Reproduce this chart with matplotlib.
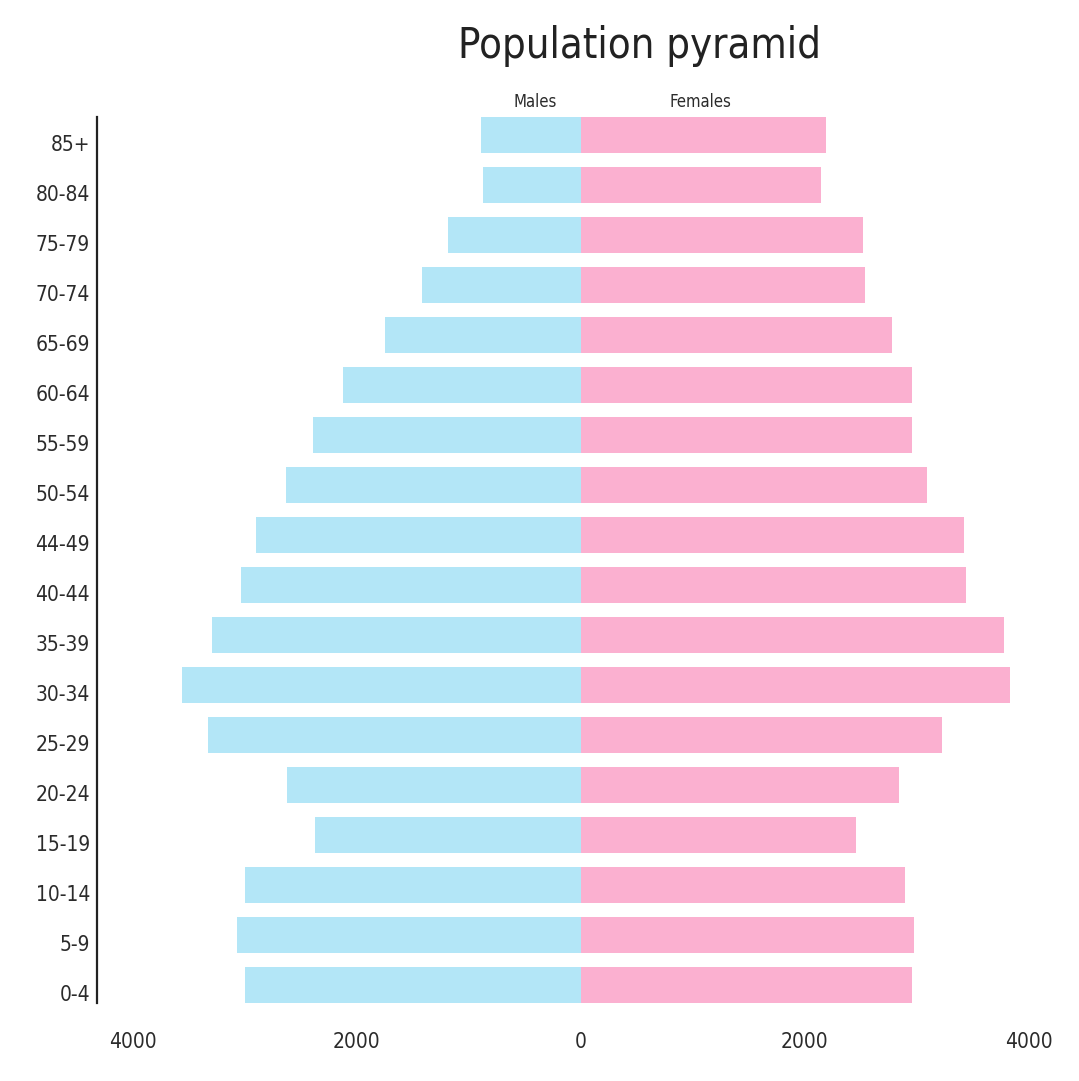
import matplotlib.pyplot as plt
import matplotlib.transforms as mtransforms
import numpy as np

plt.rcParams["font.family"] = ["DejaVu Sans"]
plt.rcParams["font.stretch"] = "condensed"

AGE_GROUPS = ["0-4", "5-9", "10-14", "15-19", "20-24", "25-29", "30-34", "35-39",
              "40-44", "44-49", "50-54", "55-59", "60-64", "65-69", "70-74", "75-79",
              "80-84", "85+"]
MALES = [3000, 3070, 3000, 2370, 2620, 3330, 3560, 3290, 3030, 2900, 2630, 2390,
         2120, 1750, 1420, 1190, 870, 890]
FEMALES = [2960, 2970, 2890, 2460, 2840, 3220, 3830, 3780, 3440, 3420, 3090, 2960,
           2960, 2780, 2540, 2520, 2140, 2190]
XTICKS = [-4000, -2000, 0, 2000, 4000]

MALE_COLOR = "#b3e6f7"
FEMALE_COLOR = "#fbb0d0"
TEXT_COLOR = "#2b2b2b"
BAR_H = 0.72

fig = plt.figure(figsize=(10.79, 10.81), dpi=100)
ax = fig.add_axes([0.0899, 0.0722, 0.899, 0.8196])

y = np.arange(len(AGE_GROUPS))
ax.barh(y, -np.array(MALES), height=BAR_H, color=MALE_COLOR)
ax.barh(y, FEMALES, height=BAR_H, color=FEMALE_COLOR)

ax.set_xlim(-4320, 4340)
ax.set_ylim(-BAR_H / 2, len(AGE_GROUPS) - 1 + BAR_H / 2)
ax.set_yticks(y)
ax.set_yticklabels(AGE_GROUPS)
ax.set_xticks(XTICKS)
ax.set_xticklabels([str(abs(v)) for v in XTICKS])
ax.tick_params(axis="y", length=0, pad=5, labelsize=15, labelcolor=TEXT_COLOR)
ax.tick_params(axis="x", length=0, pad=21, labelsize=15, labelcolor=TEXT_COLOR)

# age labels sit a little below the bar centres in the original
shift = mtransforms.ScaledTranslation(0, -0.08, fig.dpi_scale_trans)
for lab in ax.get_yticklabels():
    lab.set_transform(lab.get_transform() + shift)

for side in ["top", "right", "bottom"]:
    ax.spines[side].set_visible(False)
ax.spines["left"].set_linewidth(1.6)
ax.spines["left"].set_color("#222222")

trans = ax.get_xaxis_transform()
ax.annotate("Males", xy=(-410, 1.0), xycoords=trans, xytext=(0, 4),
            textcoords="offset points", ha="center", va="bottom",
            fontsize=12, color=TEXT_COLOR)
ax.annotate("Females", xy=(1070, 1.0), xycoords=trans, xytext=(0, 4),
            textcoords="offset points", ha="center", va="bottom",
            fontsize=12, color=TEXT_COLOR)

fig.text(0.593, 0.957, "Population pyramid", ha="center", va="center",
         fontsize=30, color="#222222")

fig.savefig("out.png", dpi=100)
